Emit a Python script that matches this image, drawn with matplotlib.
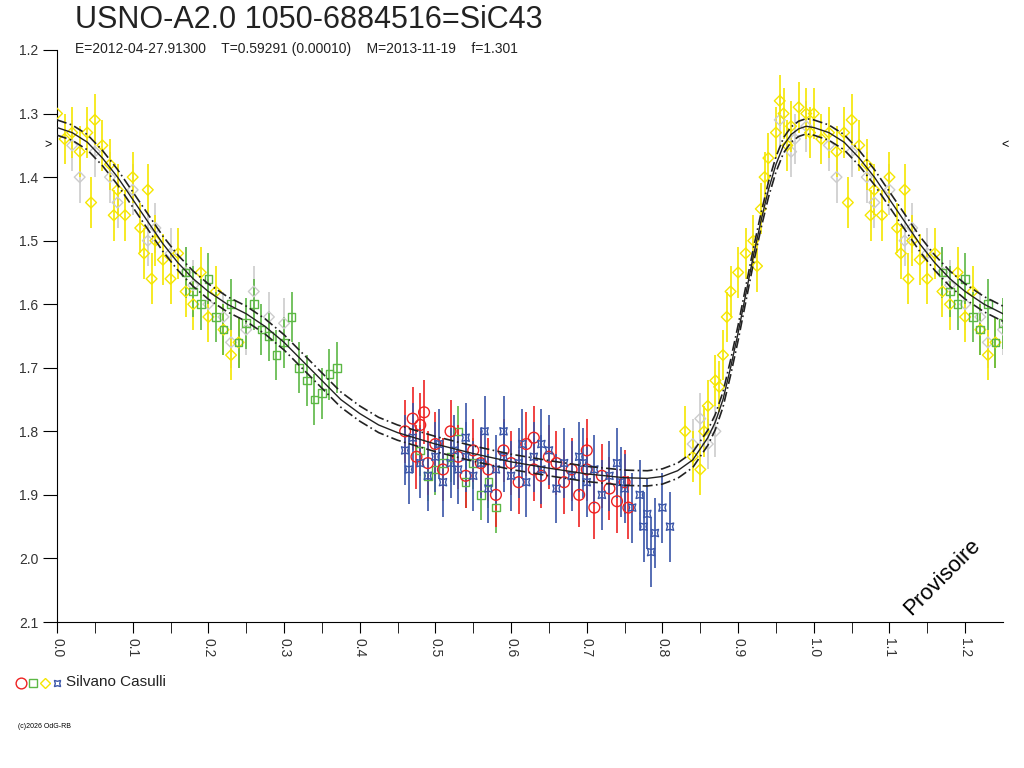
import numpy as np
import matplotlib.pyplot as plt

plt.rcParams['font.family'] = ['Liberation Sans', 'DejaVu Sans']

# model light curve (phase, mag)
curve_phase = [0.0, 0.02, 0.04, 0.06, 0.08, 0.10, 0.12, 0.14, 0.16, 0.18, 0.20, 0.225, 0.25,
               0.275, 0.3, 0.325, 0.35, 0.375, 0.4, 0.425, 0.45, 0.5, 0.55, 0.6, 0.65, 0.7,
               0.75, 0.78, 0.80, 0.82, 0.84, 0.86, 0.87, 0.88, 0.89, 0.90, 0.91, 0.92, 0.93,
               0.94, 0.95, 0.96, 0.97, 0.98, 0.99, 1.0]
curve_mag = [1.322, 1.33, 1.345, 1.37, 1.40, 1.435, 1.47, 1.505, 1.535, 1.56, 1.58, 1.60, 1.615,
             1.635, 1.66, 1.69, 1.72, 1.75, 1.772, 1.79, 1.802, 1.82, 1.835, 1.848, 1.858, 1.867,
             1.873, 1.874, 1.871, 1.862, 1.845, 1.81, 1.785, 1.75, 1.70, 1.645, 1.585, 1.525,
             1.47, 1.42, 1.38, 1.35, 1.333, 1.324, 1.32, 1.322]

yellow_ph = [0.00, 0.01, 0.02, 0.03, 0.04, 0.05, 0.06, 0.07, 0.08, 0.09, 0.10, 0.11, 0.12, 0.13,
             0.14, 0.15, 0.16, 0.17, 0.18, 0.19, 0.20, 0.21, 0.22, 0.23, 0.24, 0.045, 0.115, 0.125,
             0.075, 0.83, 0.84, 0.85, 0.855, 0.86, 0.87, 0.88, 0.885, 0.89, 0.90, 0.91, 0.92, 0.93,
             0.935, 0.94, 0.95, 0.955, 0.96, 0.97, 0.98, 0.99, 0.995, 0.925, 0.875, 0.965]
yellow_mag = [1.30, 1.34, 1.33, 1.36, 1.33, 1.31, 1.35, 1.38, 1.42, 1.46, 1.40, 1.48, 1.42, 1.50,
              1.53, 1.56, 1.52, 1.58, 1.60, 1.55, 1.62, 1.58, 1.64, 1.68, 1.66, 1.44, 1.52, 1.56,
              1.46, 1.80, 1.84, 1.86, 1.80, 1.76, 1.72, 1.68, 1.62, 1.58, 1.55, 1.52, 1.50, 1.45,
              1.40, 1.37, 1.33, 1.28, 1.30, 1.32, 1.29, 1.30, 1.33, 1.54, 1.73, 1.35]

gray_ph = [0.03, 0.05, 0.07, 0.10, 0.13, 0.15, 0.18, 0.20, 0.22, 0.25, 0.26, 0.28, 0.30,
           0.84, 0.85, 0.86, 0.87, 0.97, 0.99, 0.02, 0.08, 0.12, 0.17, 0.23, 0.955, 0.975]
gray_mag = [1.40, 1.36, 1.40, 1.42, 1.48, 1.52, 1.57, 1.60, 1.62, 1.64, 1.58, 1.62, 1.63,
            1.82, 1.78, 1.82, 1.80, 1.36, 1.32, 1.35, 1.44, 1.50, 1.55, 1.66, 1.31, 1.34]

green_ph = [0.17, 0.18, 0.19, 0.20, 0.21, 0.22, 0.23, 0.24, 0.25, 0.26, 0.27, 0.28, 0.29, 0.30,
            0.31, 0.32, 0.33, 0.34, 0.35, 0.36, 0.37, 0.48, 0.50, 0.52, 0.54, 0.55, 0.56, 0.57,
            0.58, 0.53, 0.49, 0.51]
green_mag = [1.55, 1.58, 1.60, 1.56, 1.62, 1.64, 1.60, 1.66, 1.63, 1.60, 1.64, 1.65, 1.68, 1.66,
             1.62, 1.70, 1.72, 1.75, 1.74, 1.71, 1.70, 1.83, 1.86, 1.84, 1.88, 1.85, 1.90, 1.88,
             1.92, 1.80, 1.87, 1.85]

red_ph = [0.46, 0.47, 0.475, 0.48, 0.49, 0.50, 0.51, 0.52, 0.53, 0.54, 0.55, 0.56, 0.57, 0.58,
          0.59, 0.60, 0.61, 0.62, 0.63, 0.64, 0.65, 0.66, 0.67, 0.68, 0.69, 0.70, 0.71, 0.72,
          0.73, 0.74, 0.75, 0.755, 0.485, 0.63, 0.70]
red_mag = [1.80, 1.78, 1.84, 1.79, 1.85, 1.82, 1.86, 1.80, 1.84, 1.87, 1.83, 1.85, 1.86, 1.90,
           1.83, 1.85, 1.88, 1.82, 1.86, 1.87, 1.84, 1.85, 1.88, 1.86, 1.90, 1.86, 1.92, 1.87,
           1.89, 1.91, 1.88, 1.92, 1.77, 1.81, 1.83]

blue_ph = [0.46, 0.465, 0.47, 0.48, 0.49, 0.50, 0.505, 0.51, 0.52, 0.525, 0.53, 0.54, 0.55, 0.56,
           0.565, 0.57, 0.58, 0.59, 0.60, 0.61, 0.615, 0.62, 0.63, 0.64, 0.65, 0.66, 0.67, 0.68,
           0.69, 0.70, 0.71, 0.72, 0.73, 0.74, 0.75, 0.76, 0.77, 0.775, 0.78, 0.785, 0.79, 0.80,
           0.81, 0.54, 0.59, 0.64, 0.695, 0.745]
blue_mag = [1.83, 1.86, 1.81, 1.85, 1.87, 1.84, 1.82, 1.88, 1.85, 1.83, 1.86, 1.84, 1.87, 1.85,
            1.80, 1.89, 1.86, 1.84, 1.87, 1.85, 1.82, 1.88, 1.84, 1.86, 1.83, 1.89, 1.85, 1.87,
            1.84, 1.88, 1.86, 1.90, 1.87, 1.85, 1.89, 1.92, 1.90, 1.95, 1.93, 1.99, 1.96, 1.92,
            1.95, 1.81, 1.80, 1.82, 1.85, 1.88]

fig = plt.figure(figsize=(10.24, 7.68), dpi=100)
ax = fig.add_axes([57 / 1024, 1 - 622 / 768, 946 / 1024, 572 / 768])


def repeat(ph, mag):
    ph = np.array(ph)
    mag = np.array(mag)
    keep = ph <= 0.25
    return np.concatenate([ph, ph[keep] + 1]), np.concatenate([mag, mag[keep]])


def draw(ph, mag, color, marker, size, err):
    x, y = repeat(ph, mag)
    ax.errorbar(x, y, yerr=err, fmt='none', ecolor=color, elinewidth=1.2, zorder=2)
    ax.scatter(x, y, s=size, marker=marker, facecolors='none', edgecolors=color,
               linewidths=1.0, zorder=3)


draw(gray_ph, gray_mag, '#cccccc', 'D', 30, 0.04)
draw(yellow_ph, yellow_mag, '#f5e600', 'D', 30, 0.04)
draw(green_ph, green_mag, '#5cb845', 's', 30, 0.04)
draw(red_ph, red_mag, '#ee2222', 'o', 60, 0.05)
draw(blue_ph, blue_mag, '#3a55a8', (4, 1, 45), 55, 0.055)

cx, cy = repeat(curve_phase, curve_mag)
order = np.argsort(cx)
cx, cy = cx[order], cy[order]
ax.plot(cx, cy, color='#222222', lw=1.0, zorder=4)
ax.plot(cx, cy - 0.012, color='#222222', lw=1.2, ls=(0, (6, 2, 1, 2)), zorder=4)
ax.plot(cx, cy + 0.012, color='#222222', lw=1.2, ls=(0, (6, 2, 1, 2)), zorder=4)

ax.set_xlim(0, 1.25)
ax.set_ylim(2.1, 1.2)
ax.spines['top'].set_visible(False)
ax.spines['right'].set_visible(False)
ax.set_xticks(np.arange(0, 1.25, 0.1))
ax.set_xticks(np.arange(0.05, 1.25, 0.1), minor=True)
ax.set_xticklabels(['%.1f' % v for v in np.arange(0, 1.25, 0.1)], rotation=-90,
                   fontsize=10, color='#333333')
ax.set_yticks(np.arange(1.2, 2.11, 0.1))
ax.set_yticklabels(['%.1f' % v for v in np.arange(1.2, 2.11, 0.1)], fontsize=10,
                   color='#333333')
ax.tick_params(axis='x', which='major', length=8, direction='out')
ax.tick_params(axis='x', which='minor', length=8, direction='out')
ax.tick_params(axis='y', length=10, direction='out')

ax.text(-0.012, 1.35, '>', ha='center', va='center', fontsize=9, clip_on=False)
ax.text(1.253, 1.35, '<', ha='center', va='center', fontsize=9, clip_on=False)
ax.text(1.17, 2.03, 'Provisoire', rotation=45, fontsize=16, ha='center', va='center')

fig.text(75 / 1024, 1 - 20 / 768, 'USNO-A2.0 1050-6884516=SiC43', fontsize=22, va='center',
         color='#222222')
fig.text(75 / 1024, 1 - 49 / 768,
         'E=2012-04-27.91300    T=0.59291 (0.00010)    M=2013-11-19    f=1.301',
         fontsize=10, va='center', color='#222222')

# legend symbols
for i, (c, m, s) in enumerate([('#ee2222', 'o', 60), ('#5cb845', 's', 30),
                               ('#f5e600', 'D', 30), ('#3a55a8', (4, 1, 45), 40)]):
    fig.add_artist(plt.Line2D([(21 + 12 * i) / 1024], [1 - 683 / 768], marker=m,
                              markersize=np.sqrt(s), markerfacecolor='none',
                              markeredgecolor=c, linestyle='none',
                              transform=fig.transFigure))
fig.text(66 / 1024, 1 - 682 / 768, 'Silvano Casulli', fontsize=11, va='center',
         color='#222222')
fig.text(18 / 1024, 1 - 726 / 768, '(c)2026 OdG-RB', fontsize=5, va='center')

fig.savefig('out.png', dpi=100)
